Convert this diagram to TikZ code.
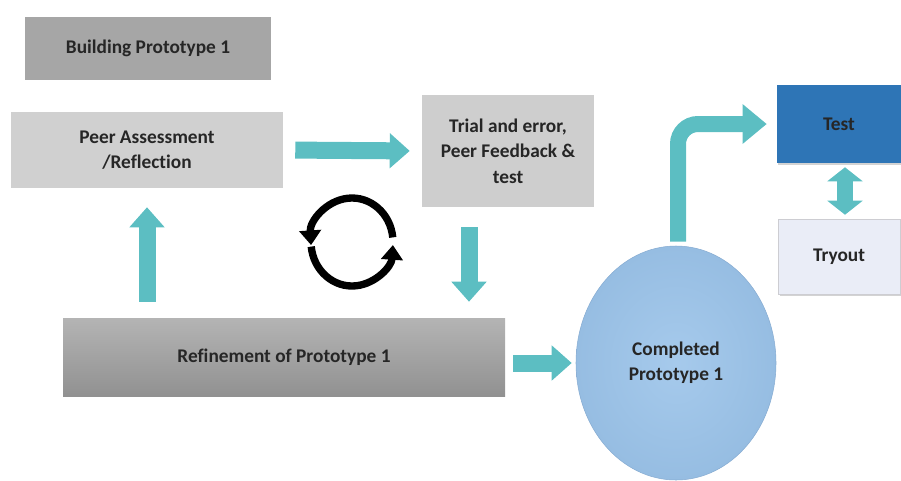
\documentclass[tikz,border=0pt]{standalone}
\usepackage{fontspec}
\setmainfont{Carlito}[Ligatures=NoCommon]
\usetikzlibrary{positioning,arrows.meta,calc,shapes.geometric,shadows}
\definecolor{flowteal}{RGB}{92,190,194}
\definecolor{labelgray}{RGB}{38,38,38}
\definecolor{testblue}{RGB}{46,117,182}

\begin{document}
\begin{tikzpicture}[x=0.75pt, y=-0.75pt,
  box/.style={align=center, inner sep=0pt, text=labelgray,
    font=\bfseries\fontsize{14.5}{19}\selectfont},
  flow/.style={draw=flowteal, line width=12.75pt,
    -{Triangle[length=15pt, width=25.5pt]}},
  cycle arc/.style={line width=5.5pt, -{Triangle[length=11pt, width=16pt]}}
]
\useasboundingbox (0,0) rectangle (901,480);

\node[box, fill={rgb,255:red,166;green,166;blue,166}, minimum width=184.5pt,
  minimum height=47.25pt] (build) at (148,48.5) {Building Prototype 1};
\node[box, fill={rgb,255:red,208;green,208;blue,208}, minimum width=204pt,
  minimum height=57pt] (peer) at (147,150) {Peer Assessment\\/Reflection};
\node[box, fill={rgb,255:red,206;green,206;blue,206}, minimum width=129pt,
  minimum height=84pt] (trial) at (508,151) {Trial and error,\\Peer Feedback \&\\test};
\node[box, top color={rgb,255:red,180;green,180;blue,180},
  bottom color={rgb,255:red,145;green,145;blue,145}, minimum width=331.5pt,
  minimum height=58.5pt] (refine) at (284,357) {Refinement of Prototype 1};
\node[box, ellipse, inner color={rgb,255:red,166;green,202;blue,236},
  outer color={rgb,255:red,150;green,189;blue,226},
  draw={rgb,255:red,135;green,172;blue,210}, thin, minimum width=150pt,
  minimum height=175.5pt] (comp) at (676,363) {Completed\\Prototype 1};
\node[box, fill=testblue, minimum width=93pt, minimum height=58.5pt,
  drop shadow={shadow xshift=0.8pt, shadow yshift=-1.5pt, opacity=0.35}]
  (test) at (839,124) {Test};
\node[box, fill={rgb,255:red,234;green,237;blue,247},
  draw={rgb,255:red,205;green,205;blue,210}, thin, minimum width=91.5pt,
  minimum height=56.25pt,
  drop shadow={shadow xshift=1.2pt, shadow yshift=-1.5pt, opacity=0.35}]
  (tryout) at (839,256.5) {Tryout};

% thick arrows
\draw[flow, shorten <=9pt, shorten >=9pt] (peer.east) -- (trial.west);
\draw[flow, shorten <=12pt, shorten >=14.25pt] (refine.north -| peer.south) -- (peer.south);
\coordinate (down) at ($(trial.south)+(-39,0)$);
\draw[flow, shorten <=15pt, shorten >=12pt] (down) -- (down |- refine.north);
\draw[flow, shorten <=6pt, shorten >=3pt] (comp.west -| refine.east) -- (comp.west);
\draw[flow, line width=12pt, rounded corners=15pt, shorten <=3pt, shorten >=7.5pt,
  -{Triangle[length=18pt, width=28.5pt]}] ([xshift=1.5pt]comp.north) |- (test.west);
\draw[flow, line width=12pt, shorten <=3pt, shorten >=3pt,
  {Triangle[length=10.5pt, width=26pt]}-{Triangle[length=10.5pt, width=26pt]}]
  ([xshift=4.5pt]test.south) -- ([xshift=4.5pt]tryout.north);

% cycle symbol
\coordinate (cyc) at (352,242);
\draw[cycle arc] ($(cyc)+(354:41 and 44)$) arc[start angle=354, end angle=176,
  x radius=41, y radius=44];
\draw[cycle arc] ($(cyc)+(174:41 and 44)$) arc[start angle=174, end angle=4,
  x radius=41, y radius=44];
\end{tikzpicture}
\end{document}
